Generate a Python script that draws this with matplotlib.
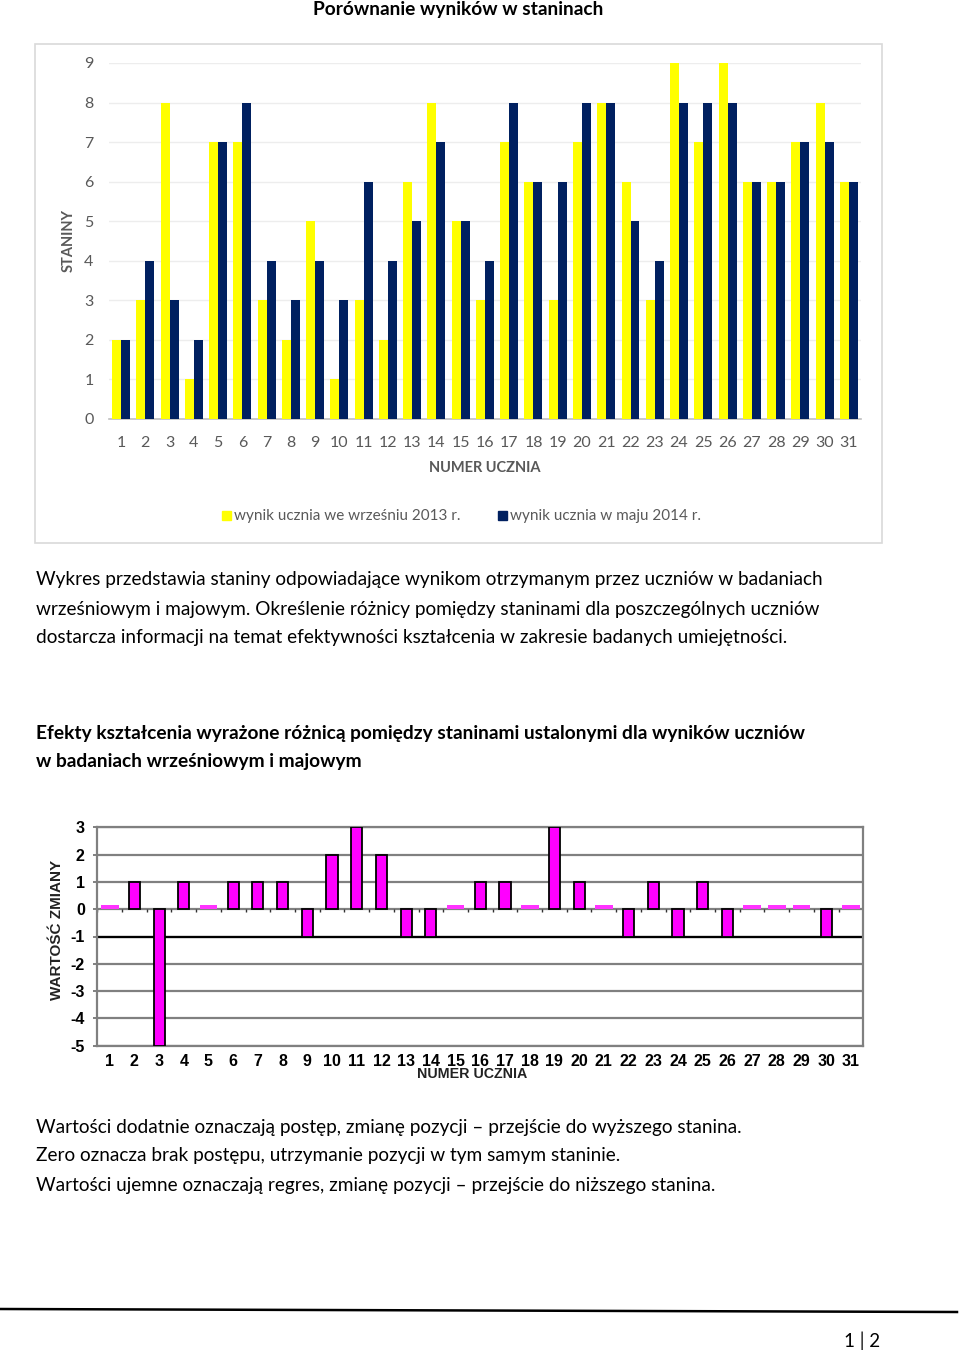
import numpy as np
from matplotlib import pyplot as plt
from matplotlib.patches import Rectangle

# --- data ---
students = list(range(1, 32))
sept_2013 = [2, 3, 8, 1, 7, 7, 3, 2, 5, 1, 3, 2, 6, 8, 5, 3, 7, 6, 3, 7, 8, 6, 3, 9, 7, 9, 6, 6, 7, 8, 6]
may_2014 = [2, 4, 3, 2, 7, 8, 4, 3, 4, 3, 6, 4, 5, 7, 5, 4, 8, 6, 6, 8, 8, 5, 4, 8, 8, 8, 6, 6, 7, 7, 6]
change = [m - s for m, s in zip(may_2014, sept_2013)]

title_1 = "Porównanie wyników w staninach"
legend_labels = ["wynik ucznia we wrześniu 2013 r.", "wynik ucznia w maju 2014 r."]
para_1 = ["Wykres przedstawia staniny odpowiadające wynikom otrzymanym przez uczniów w badaniach",
          "wrześniowym i majowym. Określenie różnicy pomiędzy staninami dla poszczególnych uczniów",
          "dostarcza informacji na temat efektywności kształcenia w zakresie badanych umiejętności."]
heading_2 = ["Efekty kształcenia wyrażone różnicą pomiędzy staninami ustalonymi dla wyników uczniów",
             "w badaniach wrześniowym i majowym"]
para_2 = ["Wartości dodatnie oznaczają postęp, zmianę pozycji – przejście do wyższego stanina.",
          "Zero oznacza brak postępu, utrzymanie pozycji w tym samym staninie.",
          "Wartości ujemne oznaczają regres, zmianę pozycji – przejście do niższego stanina."]

W, H = 960, 1354
plt.rcParams['font.family'] = ['Lato', 'DejaVu Sans']
plt.rcParams['axes.unicode_minus'] = False
fig = plt.figure(figsize=(W / 100, H / 100), dpi=100)
renderer = fig.canvas.get_renderer()


def fx(x):
    return x / W


def fy(y):
    return 1 - y / H


def fit_size(s, width_px, **kw):
    # font size that makes s about width_px wide
    t = fig.text(0, 0, s, fontsize=20, **kw)
    w = t.get_window_extent(renderer).width
    t.remove()
    return 20 * width_px / w


TXT = '#000000'
GREY = '#595959'

# ---------- chart 1 ----------
fig.text(fx(458), fy(10), title_1, ha='center', va='center', fontsize=fit_size(title_1, 291, weight='bold'),
         weight='bold', color=TXT)
fig.patches.append(Rectangle((fx(35), fy(543)), fx(847), (543 - 44) / H, transform=fig.transFigure,
                             fill=False, edgecolor='#D9D9D9', lw=1.2))

ax1 = fig.add_axes([fx(108.9), fy(419), fx(861 - 108.9), (419 - 63) / H])
x = np.array(students)
bw = 0.37
ax1.bar(x - bw / 2, sept_2013, bw, color='#FFFF00', zorder=3)
ax1.bar(x + bw / 2, may_2014, bw, color='#002060', zorder=3)
ax1.set_xlim(0.5, 31.5)
ax1.set_ylim(0, 9)
ax1.set_yticks(range(0, 10))
ax1.set_xticks(students)
ax1.yaxis.grid(True, color='#EDEDED', lw=1)
ax1.set_axisbelow(True)
for s in ['top', 'right', 'left']:
    ax1.spines[s].set_visible(False)
ax1.spines['bottom'].set_color('#BFBFBF')
ax1.spines['bottom'].set_linewidth(1.2)
ax1.tick_params(length=0, labelsize=11.5, labelcolor=GREY)
ax1.tick_params(axis='y', pad=11)
ax1.tick_params(axis='x', pad=12.5)
fig.text(fx(69), fy(241), "STANINY", rotation=90, ha='center', va='center', fontsize=10.5,
         weight='bold', color=GREY)
fig.text(fx(485), fy(468), "NUMER UCZNIA", ha='center', va='center', fontsize=10.5,
         weight='bold', color=GREY)

# legend
for (sq_x, col, lab) in [(222, '#FFFF00', legend_labels[0]), (498, '#002060', legend_labels[1])]:
    fig.patches.append(Rectangle((fx(sq_x), fy(520)), fx(9), 8.5 / H, transform=fig.transFigure,
                                 color=col))
    fig.text(fx(sq_x + 12), fy(516), lab, ha='left', va='center', fontsize=11, color=GREY)

# ---------- paragraphs ----------
fs_p = fit_size(para_1[0], 786)
for i, line in enumerate(para_1):
    fig.text(fx(36), fy(580 + 29 * i), line, ha='left', va='center', fontsize=fs_p, color=TXT)

fs_h = fit_size(heading_2[0], 768, weight='bold')
for i, line in enumerate(heading_2):
    fig.text(fx(36), fy(733 + 29 * i), line, ha='left', va='center', fontsize=fs_h,
             weight='bold', color=TXT)

for i, line in enumerate(para_2):
    fig.text(fx(36), fy(1127 + 29 * i), line, ha='left', va='center', fontsize=fs_p, color=TXT)

# ---------- chart 2 ----------
ax2 = fig.add_axes([fx(97.3), fy(1045.7), fx(863.3 - 97.3), (1045.7 - 827.3) / H])
ch = np.array(change)
nz = ch != 0
ax2.bar(x[nz], ch[nz], 0.45, color='#FF00FF', edgecolor='black', lw=1.3, zorder=3)
ax2.bar(x[~nz], [0.14] * int((~nz).sum()), 0.72, color='#FF33FF', lw=0, zorder=3)
ax2.vlines(np.arange(0.5, 32), -0.12, 0, color='#333333', lw=1, zorder=2)
ax2.set_xlim(0.5, 31.5)
ax2.set_ylim(-5, 3)
ax2.set_yticks(range(-5, 4))
ax2.set_xticks(students)
ax2.yaxis.grid(True, color='#808080', lw=1.6)
ax2.axhline(-1, color='black', lw=1.6, zorder=2)
ax2.set_axisbelow(True)
for s in ax2.spines.values():
    s.set_color('#808080')
    s.set_linewidth(1.6)
arial = ['Liberation Sans', 'DejaVu Sans']
ax2.tick_params(length=0, labelsize=11.5)
ax2.tick_params(axis='y', length=3, width=1.4, color='#808080', pad=6)
ax2.tick_params(axis='x', pad=6)
for lab in ax2.get_xticklabels() + ax2.get_yticklabels():
    lab.set_family(arial)
    lab.set_weight('bold')
fig.text(fx(57), fy(930), "WARTOŚĆ ZMIANY", rotation=90, ha='center', va='center', fontsize=11,
         weight='bold', color='#222222', family=arial)
fig.text(fx(472), fy(1074), "NUMER UCZNIA", ha='center', va='center', fontsize=10.3,
         weight='bold', color='#222222', family=arial)

# ---------- footer ----------
fig.lines.append(plt.Line2D([0, fx(957)], [fy(1309), fy(1312)], transform=fig.transFigure,
                            color='black', lw=1.8))
fig.text(fx(862), fy(1341), "1 | 2", ha='center', va='center', fontsize=13.5, color=TXT)

fig.savefig("out.png", dpi=100)
